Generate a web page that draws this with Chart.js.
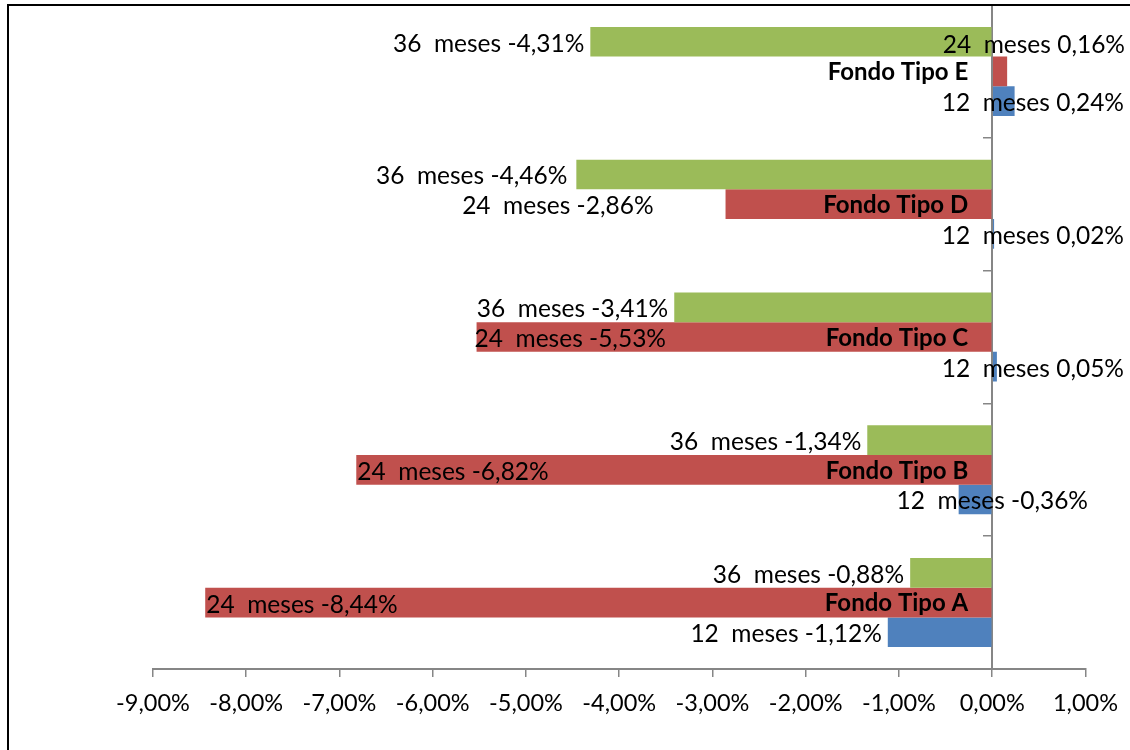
<!DOCTYPE html>
<html>
<head>
<meta charset="utf-8">
<script src="https://cdn.jsdelivr.net/npm/chart.js@4.4.1/dist/chart.umd.min.js"></script>
<style>
html,body{margin:0;padding:0;background:#fff;}
#wrap{position:relative;width:1130px;height:750px;overflow:hidden;}
#c{position:absolute;left:0;top:0;}
#frame{position:absolute;left:7px;top:4px;width:1200px;height:800px;border-left:2px solid #000;border-top:2px solid #000;pointer-events:none;}
</style>
</head>
<body>
<div id="wrap"><canvas id="c" width="1130" height="750"></canvas><div id="frame"></div></div>
<script>
// ---- data (category order A..E, bottom to top in the picture) ----
const categories = ['Fondo Tipo A', 'Fondo Tipo B', 'Fondo Tipo C', 'Fondo Tipo D', 'Fondo Tipo E'];
const seriesNames = ['12  meses', '24  meses', '36  meses'];
const meses12 = [-1.12, -0.36, 0.05, 0.02, 0.24];
const meses24 = [-8.44, -6.82, -5.53, -2.86, 0.16];
const meses36 = [-0.88, -1.34, -3.41, -4.46, -4.31];
const xTickValues = [-9, -8, -7, -6, -5, -4, -3, -2, -1, 0, 1];

// ---- styles ----
const seriesColors = ['#4F81BD', '#C0504D', '#9BBB59'];
// label placement per series (A..E): [mode, extra gap in px]
// out = outside end, in = inside end, fit = pushed against right edge, fitUp = same, raised
const labelPlacement = {
  '12  meses': [['out', 0], ['fit', 36], ['fit', 0], ['fit', 0], ['fit', 0]],
  '24  meses': [['in', 0], ['in', 0], ['in', -3], ['out', 66], ['fitUp', 0]],
  '36  meses': [['out', 0], ['out', 0], ['out', 0], ['out', 3], ['out', 0]]
};
const FONT = 'Lato';
const fmt = v => v.toFixed(2).replace('.', ',') + '%';

const rev = a => a.slice().reverse();
const seriesValues = [meses12, meses24, meses36];
// Chart.js draws the first dataset at the top of each group; Excel puts 36 meses on top
const order = [2, 1, 0];
const datasets = order.map(i => ({
  label: seriesNames[i],
  data: rev(seriesValues[i]),
  backgroundColor: seriesColors[i],
  borderWidth: 0,
  categoryPercentage: 0.67,
  barPercentage: 1.0
}));

const labelsPlugin = {
  id: 'labelsPlugin',
  afterDatasetsDraw(chart) {
    const ctx = chart.ctx;
    const xs = chart.scales.x, ys = chart.scales.y;
    const zeroX = xs.getPixelForValue(0);
    ctx.save();
    // category labels
    ctx.font = 'bold 24px ' + FONT;
    ctx.fillStyle = '#000';
    ctx.textAlign = 'right';
    ctx.textBaseline = 'middle';
    chart.data.labels.forEach((lab, i) => {
      ctx.fillText(lab, zeroX - 24, ys.getPixelForValue(i) + 1);
    });
    // data labels
    ctx.font = '24.5px ' + FONT;
    chart.data.datasets.forEach((ds, di) => {
      const meta = chart.getDatasetMeta(di);
      const n = ds.data.length;
      meta.data.forEach((bar, j) => {
        const v = ds.data[j];
        const catIdx = n - 1 - j;
        const [mode, dx] = labelPlacement[ds.label][catIdx];
        const txt = ds.label + ' ' + fmt(v);
        let x, y = bar.y + 2, align;
        if (mode === 'out') { align = 'right'; x = Math.min(bar.x, bar.base) - 6 - dx; }
        else if (mode === 'in') { align = 'left'; x = Math.min(bar.x, bar.base) + 1 + dx; }
        else if (mode === 'fit') { align = 'right'; x = chart.width - 6 - dx; }
        else { align = 'right'; x = chart.width - 5 - dx; y = bar.y - 26; }
        ctx.textAlign = align;
        ctx.fillText(txt, x, y);
      });
    });
    ctx.restore();
  }
};

new Chart(document.getElementById('c'), {
  type: 'bar',
  data: { labels: rev(categories), datasets },
  options: {
    indexAxis: 'y',
    responsive: false,
    animation: false,
    devicePixelRatio: 1,
    layout: { padding: { top: 5, left: 153, right: 44, bottom: 0 } },
    plugins: { legend: { display: false }, tooltip: { enabled: false } },
    scales: {
      x: {
        type: 'linear',
        min: xTickValues[0],
        max: xTickValues[xTickValues.length - 1],
        afterBuildTicks: s => { s.ticks = xTickValues.map(v => ({ value: v })); },
        afterFit: s => { s.height = 81; },
        grid: { display: true, drawOnChartArea: false, drawTicks: true, tickLength: 8, color: '#868686', lineWidth: 1.5 },
        border: { display: true, color: '#868686', width: 2 },
        ticks: {
          color: '#000',
          font: { family: FONT, size: 23.5 },
          padding: 12,
          maxRotation: 0,
          autoSkip: false,
          callback: v => fmt(v)
        }
      },
      y: {
        type: 'category',
        position: { x: 0 },
        z: 1,
        afterFit: s => { s.paddingTop = 0; s.paddingBottom = 0; },
        grid: { display: true, drawOnChartArea: false, drawTicks: true, tickLength: 8, color: '#868686', lineWidth: 1.5, offset: true },
        border: { display: true, color: '#868686', width: 2 },
        ticks: { display: false }
      }
    }
  },
  plugins: [labelsPlugin]
});
</script>
</body>
</html>
